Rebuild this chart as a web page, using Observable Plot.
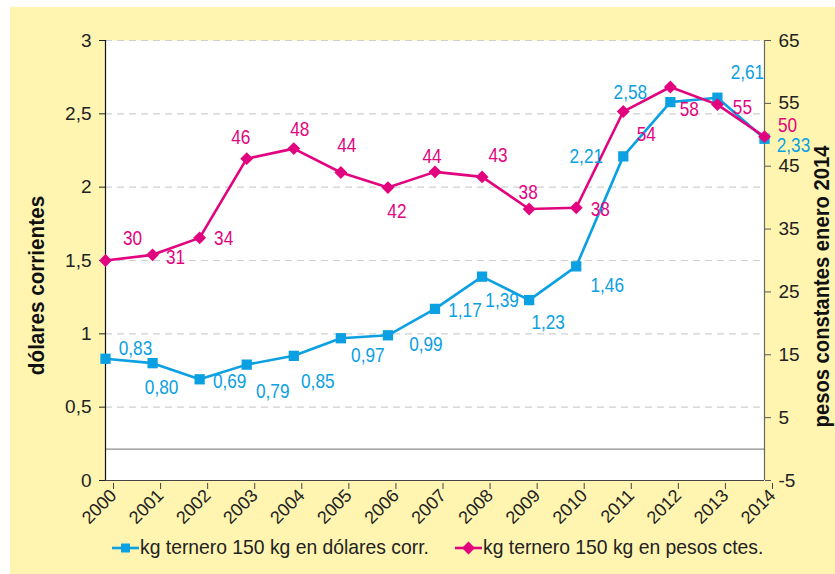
<!DOCTYPE html>
<html><head><meta charset="utf-8">
<script src="https://cdn.jsdelivr.net/npm/d3@7"></script>
<script src="https://cdn.jsdelivr.net/npm/@observablehq/plot@0.6"></script>
<style>
body{margin:0;background:#fff;}
#wrap{position:relative;width:835px;height:574px;overflow:hidden;font-family:"Liberation Sans",Arial,sans-serif;}
#bg{position:absolute;left:10px;top:7px;width:825px;height:567px;background:#fff5b1;}
#chart{position:absolute;left:0;top:0;}
#legend{position:absolute;left:0;top:525px;width:835px;height:49px;}
.item{position:absolute;top:13px;height:20px;font-size:21px;color:#222;white-space:nowrap;}
.item svg{position:absolute;left:0;top:0;}
.item span{position:absolute;left:28px;top:-3px;display:inline-block;transform:scaleX(0.92);transform-origin:0 50%;}
</style></head><body>
<div id="wrap"><div id="bg"></div><div id="chart"></div><div id="legend"></div></div>
<script>
const years = [2000,2001,2002,2003,2004,2005,2006,2007,2008,2009,2010,2011,2012,2013,2014];
const dolares = [0.83,0.80,0.69,0.79,0.85,0.97,0.99,1.17,1.39,1.23,1.46,2.21,2.58,2.61,2.33];
const pesos = [30,30.9,33.6,46.2,47.8,44,41.6,44.1,43.3,38.2,38.4,53.7,57.6,54.8,49.7];
const leftTicks = [0,0.5,1,1.5,2,2.5,3];
const rightTicks = [-5,5,15,25,35,45,55,65];
const seriesNames = ["kg ternero 150 kg en dólares corr.", "kg ternero 150 kg en pesos ctes."];
const axisTitles = ["dólares corrientes", "pesos constantes enero 2014"];

// label placement (pixel offsets from each point)
const dolarOffsets = [[30,-10],[9,24],[30,2],[26,27],[24,25],[27,17],[38,9],[30,1],[20,24],[19,22],[31,19],[-37,0],[-40,-10],[30,-25],[29,7]];
const pesoOffsets = [[27,-22],[23,2],[24,0],[-6,-21],[6,-19],[6,-27],[9,24],[-3,-16],[16,-22],[-1,-17],[24,2],[23,23],[19,22],[25,3],[23,-11]];

const BLUE = "#0aa0e2", PINK = "#e2047f";
const FONT = '"Liberation Sans",Arial,sans-serif';
const yMax = 3, pMin = -5, pMax = 65;
const toLeft = p => (p - pMin) * yMax / (pMax - pMin);
const fromLeft = v => Math.round(v * (pMax - pMin) / yMax + pMin);
const comma = d => String(d).replace(".", ",");
const fmt2 = d => d.toFixed(2).replace(".", ",");

const dData = years.map((y,i) => ({year:y, v:dolares[i]}));
const pData = years.map((y,i) => ({year:y, v:toLeft(pesos[i]), p:pesos[i]}));

const dLabels = dData.map((d,i) => Plot.text([d], {x:"year", y:"v", text: d => fmt2(d.v), dx:dolarOffsets[i][0], dy:dolarOffsets[i][1], fill:BLUE, fontSize:21}));
const pLabels = pData.map((d,i) => Plot.text([d], {x:"year", y:"v", text: d => String(Math.round(d.p)), dx:pesoOffsets[i][0], dy:pesoOffsets[i][1], fill:PINK, fontSize:21}));

const plot = Plot.plot({
  width: 835, height: 525,
  marginLeft: 105, marginRight: 71, marginTop: 40, marginBottom: 45,
  style: {background: "transparent", fontFamily: FONT, fontSize: "19px", color: "#222", overflow: "visible"},
  x: {domain: [2000, 2014]},
  y: {domain: [0, yMax]},
  marks: [
    Plot.frame({fill: "white", stroke: null}),
    Plot.ruleY(leftTicks.filter(d => d > 0), {stroke: "#cfcfcf", strokeWidth: 1.2, strokeDasharray: "7,5"}),
    Plot.ruleY([toLeft(0)], {stroke: "#8c8c8c", strokeWidth: 1.3}),
    Plot.axisY({ticks: leftTicks, tickFormat: comma, anchor: "left", tickSize: 6, tickPadding: 8, label: null, fontSize: 19, stroke: "#222"}),
    Plot.axisY({ticks: rightTicks.map(toLeft), tickFormat: fromLeft, anchor: "right", tickSize: 6, tickPadding: 8, label: null, fontSize: 19, stroke: "#555"}),
    Plot.axisX({ticks: years, tickFormat: "d", tickRotate: -45, tickSize: 6, tickPadding: 3, label: null, fontSize: 18, dx: 8, dy: 3, stroke: "#444"}),
    Plot.ruleX([2000], {stroke: "#111", strokeWidth: 1.2}),
    Plot.ruleX([2014], {stroke: "#666", strokeWidth: 1.2}),
    Plot.ruleY([0], {stroke: "#444", strokeWidth: 1.2}),
    Plot.line(dData, {x: "year", y: "v", stroke: BLUE, strokeWidth: 2.6}),
    Plot.dot(dData, {x: "year", y: "v", symbol: "square", r: 5.8, fill: BLUE, stroke: null}),
    Plot.line(pData, {x: "year", y: "v", stroke: PINK, strokeWidth: 2.6}),
    Plot.dot(pData, {x: "year", y: "v", symbol: "diamond2", r: 5.8, fill: PINK, stroke: null}),
    ...dLabels,
    ...pLabels,
    Plot.text([axisTitles[0]], {frameAnchor: "left", textAnchor: "middle", rotate: -90, dx: -69, dy: 25, fontSize: 22, fontWeight: "bold", fill: "#111"}),
    Plot.text([axisTitles[1]], {frameAnchor: "right", textAnchor: "middle", rotate: -90, dx: 58, dy: 26, fontSize: 21.5, fontWeight: "bold", fill: "#111"})
  ]
});
document.getElementById("chart").appendChild(plot);

// condensed look: compress text marks horizontally around their anchor
plot.querySelectorAll('g[aria-label="text"]').forEach(g => {
  const s = g.getAttribute("font-weight") === "bold" ? 0.94 : 0.82;
  g.querySelectorAll("text").forEach(t => {
    t.setAttribute("transform", (t.getAttribute("transform") || "") + ` scale(${s},1)`);
  });
});

// legend
const legend = document.getElementById("legend");
const items = [
  {name: seriesNames[0], color: BLUE, left: 112, shape: "square"},
  {name: seriesNames[1], color: PINK, left: 455, shape: "diamond"}
];
items.forEach(it => {
  const div = document.createElement("div");
  div.className = "item";
  div.style.left = it.left + "px";
  const mk = it.shape === "square"
    ? `<rect x="9" y="5.5" width="9" height="9" fill="${it.color}"/>`
    : `<polygon points="13.5,3.5 20,10 13.5,16.5 7,10" fill="${it.color}"/>`;
  div.innerHTML = `<svg width="27" height="20"><line x1="0" x2="27" y1="10" y2="10" stroke="${it.color}" stroke-width="2.6"/>${mk}</svg><span>${it.name}</span>`;
  legend.appendChild(div);
});
</script>
</body></html>
